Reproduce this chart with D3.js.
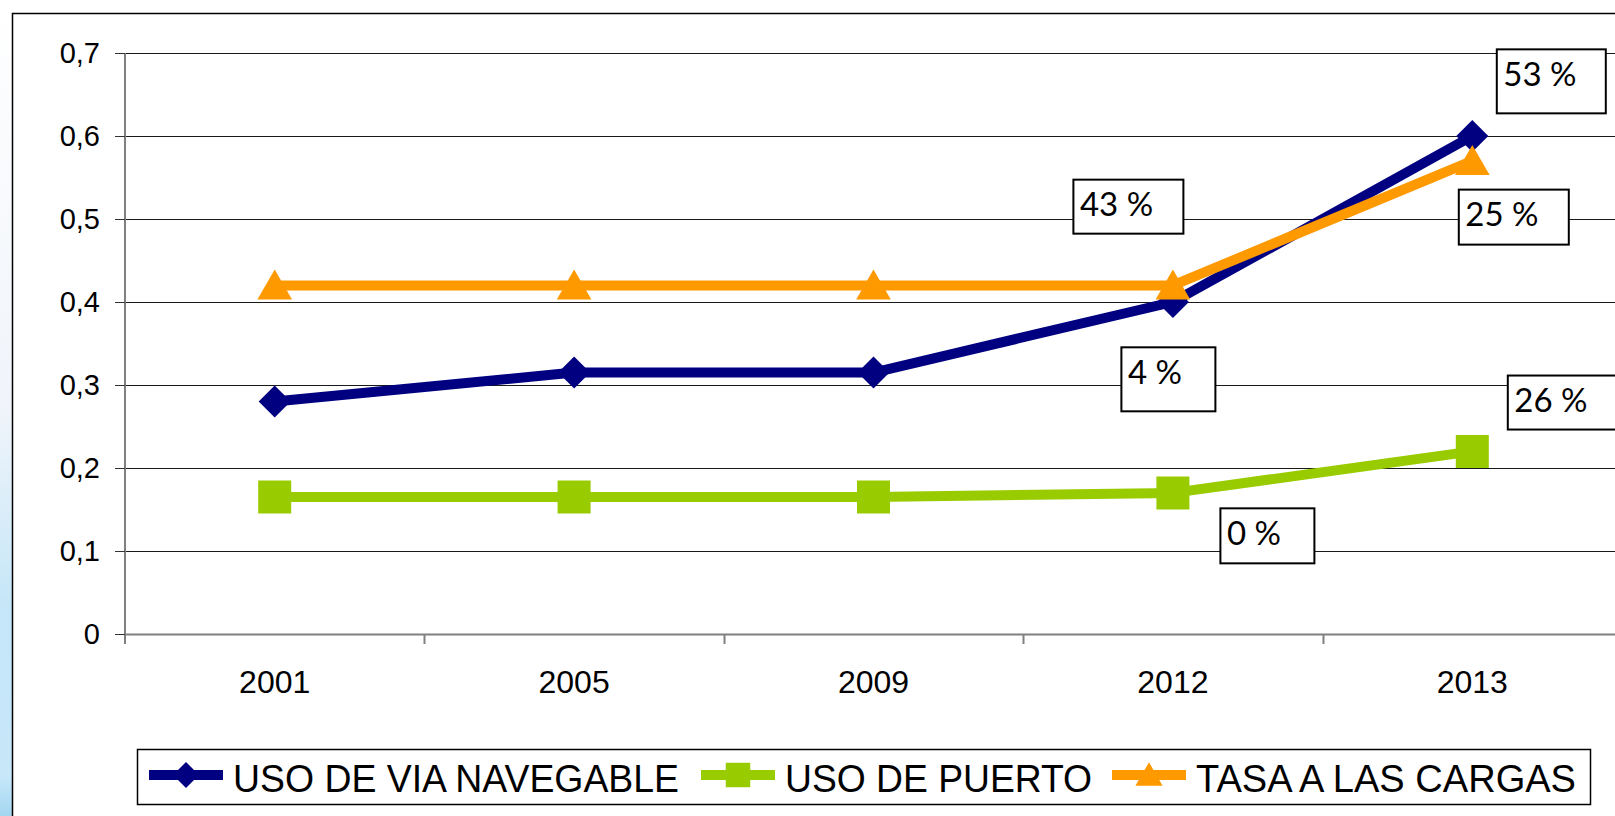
<!DOCTYPE html>
<html>
<head>
<meta charset="utf-8">
<script src="https://cdn.jsdelivr.net/npm/d3@7"></script>
<style>
body{margin:0;background:#fff;overflow:hidden;}
svg{display:block;}
</style>
</head>
<body>
<svg id="chart" width="1615" height="816"></svg>
<script>
// ---------- DATA ----------
var years = ['2001','2005','2009','2012','2013'];
var viaNavegable = [0.28, 0.315, 0.315, 0.40, 0.60];
var usoPuerto = [0.165, 0.165, 0.165, 0.17, 0.22];
var tasaCargas = [0.42, 0.42, 0.42, 0.42, 0.57];
var yTicks = [0, 0.1, 0.2, 0.3, 0.4, 0.5, 0.6, 0.7];
var seriesNames = ['USO DE VIA NAVEGABLE', 'USO DE PUERTO', 'TASA A LAS CARGAS'];
var noteTexts = ['53 %', '43 %', '25 %', '4 %', '26 %', '0 %'];
var noteYears = ['2013', '2012', '2013', '2012', '2013', '2012'];
var noteTops = [0.705, 0.548, 0.536, 0.346, 0.312, 0.152];

var series = [
  {name:seriesNames[0], values:viaNavegable, color:'#000080', marker:'diamond'},
  {name:seriesNames[1], values:usoPuerto, color:'#99CC00', marker:'square'},
  {name:seriesNames[2], values:tasaCargas, color:'#FF9900', marker:'triangle'}
];

var svg = d3.select('#chart');

// left blue strip (slide background)
var defs = svg.append('defs');
var grad = defs.append('linearGradient')
.attr('id','strip')
.attr('x1',0).attr('y1',0).attr('x2',0).attr('y2',1);
grad.append('stop').attr('offset','0%').attr('stop-color','#ffffff');
grad.append('stop').attr('offset','50%').attr('stop-color','#f0f4fa');
grad.append('stop').attr('offset','75%').attr('stop-color','#c4e6f8');
grad.append('stop').attr('offset','95%').attr('stop-color','#c8e8fa');
grad.append('stop').attr('offset','100%').attr('stop-color','#a4d6f0');
svg.append('rect').attr('x',0).attr('y',0).attr('width',12).attr('height',816).attr('fill','url(#strip)');

// outer frame
svg.append('rect')
.attr('x',12.5).attr('y',13.5)
.attr('width',1700).attr('height',900)
.attr('fill','#fff')
.attr('stroke','#000')
.attr('stroke-width',1.5);

// ---------- SCALES ----------
var xScale = d3.scaleBand().domain(years).range([125,1622]);
var yScale = d3.scaleLinear().domain([0,0.7]).range([634,53]);
var xc = function(d){ return xScale(d) + xScale.bandwidth()/2; };

var plot = svg.append('g');

// grid lines
plot.selectAll('.grid')
.data(yTicks)
.enter()
.append('line')
.attr('x1',125).attr('x2',1622)
.attr('y1',d=>Math.round(yScale(d))+0.5)
.attr('y2',d=>Math.round(yScale(d))+0.5)
.attr('stroke',(d)=>d===0 ? '#808080' : '#1a1a1a')
.attr('stroke-width',(d)=>d===0 ? 2 : 1);

// y axis
var yAxis = d3.axisLeft(yScale)
.tickValues(yTicks)
.tickSize(10)
.tickPadding(15)
.tickFormat(d=>d3.format('.1f')(d).replace('.',',').replace(/^0,0$/,'0'));

var yG = plot.append('g')
.attr('transform','translate(125,0)')
.call(yAxis);
yG.select('.domain').attr('stroke','#808080').attr('stroke-width',2)
.attr('d','M0,53V644');
yG.selectAll('.tick line').attr('stroke','#333');
yG.selectAll('text')
.style('font-family','"Liberation Sans", Arial, sans-serif')
.style('font-size','29px')
.attr('fill','#000');

// x axis
var xAxis = d3.axisBottom(xScale).tickSize(0).tickPadding(0);
var xG = plot.append('g')
.attr('transform','translate(0,634)')
.call(xAxis);
xG.select('.domain').remove();
xG.selectAll('text')
.attr('y',59)
.attr('dy',0)
.style('font-family','"Liberation Sans", Arial, sans-serif')
.style('font-size','32px')
.attr('fill','#000');

// category separator ticks
plot.selectAll('.xtick')
.data(years.slice(1))
.enter()
.append('line')
.attr('x1',d=>Math.round(xScale(d))+0.5)
.attr('x2',d=>Math.round(xScale(d))+0.5)
.attr('y1',634).attr('y2',644)
.attr('stroke','#808080')
.attr('stroke-width',2);

// ---------- LINES ----------
var symbols = {
  diamond: d3.symbol().type(d3.symbolSquare).size(512),
  square: d3.symbol().type(d3.symbolSquare).size(1089),
  triangle: d3.symbol().type(d3.symbolTriangle).size(520)
};

var lineGen = d3.line()
.x((d,i)=>xc(years[i]))
.y(d=>yScale(d));

series.forEach(function(s){
  plot.append('path')
  .attr('d',lineGen(s.values))
  .attr('fill','none')
  .attr('stroke',s.color)
  .attr('stroke-width',10)
  .attr('stroke-linejoin','round');
});

series.forEach(function(s){
  plot.selectAll(null)
  .data(s.values)
  .enter()
  .append('path')
  .attr('d',symbols[s.marker])
  .attr('fill',s.color)
  .attr('transform',function(d,i){
    var t = 'translate('+xc(years[i])+','+yScale(d)+')';
    if(s.marker==='diamond') t += ' rotate(45)';
    if(s.marker==='triangle') t += ' translate(0,4)';
    return t;
  });
});

// ---------- NOTE BOXES ----------
// x shift from category centre, box width, box height
var noteDx = [24, -100, -14, -52, 35, 47];
var noteW = [109, 110, 110, 94, 130, 94];
var noteH = [64, 54, 55, 64, 54, 55];

var noteG = svg.selectAll('.note')
.data(noteTexts)
.enter()
.append('g')
.attr('transform',(d,i)=>'translate('+(xc(noteYears[i])+noteDx[i])+','+yScale(noteTops[i])+')');

noteG.append('rect')
.attr('x',0.5).attr('y',0.5)
.attr('width',(d,i)=>noteW[i])
.attr('height',(d,i)=>noteH[i])
.attr('fill','#fff')
.attr('stroke','#000')
.attr('stroke-width',2);

noteG.append('text')
.text(d=>d)
.attr('x',7)
.attr('y',37)
.style('font-family','Lato, "Open Sans", sans-serif')
.style('font-size','33px')
.attr('fill','#000');

// ---------- LEGEND ----------
var legend = svg.append('g');
legend.append('rect')
.attr('x',137.5).attr('y',749.5)
.attr('width',1453).attr('height',55)
.attr('fill','#fff')
.attr('stroke','#000')
.attr('stroke-width',1.5);

var legendX = [149, 701, 1112];
var legendW = [446, 307, 380];
var ly = 775;
var legendSym = {
  diamond: d3.symbol().type(d3.symbolSquare).size(338),
  square: d3.symbol().type(d3.symbolSquare).size(600),
  triangle: d3.symbol().type(d3.symbolTriangle).size(320)
};
series.forEach(function(s,i){
  var lx = legendX[i];
  legend.append('line')
  .attr('x1',lx).attr('x2',lx+74)
  .attr('y1',ly).attr('y2',ly)
  .attr('stroke',s.color)
  .attr('stroke-width',10);
  legend.append('path')
  .attr('d',legendSym[s.marker])
  .attr('fill',s.color)
  .attr('transform','translate('+(lx+37)+','+ly+')'+(s.marker==='diamond'?' rotate(45)':'')+(s.marker==='triangle'?' translate(0,3)':''));
  legend.append('text')
  .text(s.name)
  .attr('x',lx+84)
  .attr('y',792)
  .attr('textLength',legendW[i])
  .attr('lengthAdjust','spacingAndGlyphs')
  .style('font-family','"Liberation Sans", Arial, sans-serif')
  .style('font-size','38.5px')
  .attr('fill','#000');
});
</script>
</body>
</html>
